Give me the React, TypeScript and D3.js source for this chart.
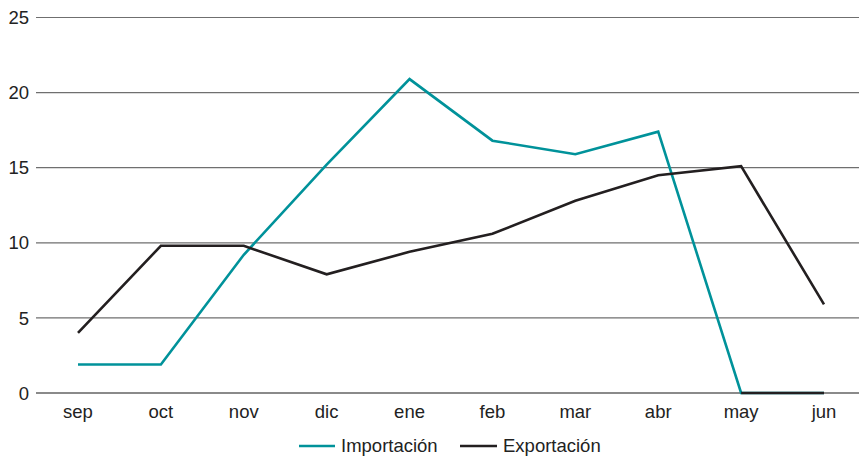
import React from "react";
import * as d3 from "d3";

const months = ["sep", "oct", "nov", "dic", "ene", "feb", "mar", "abr", "may", "jun"];
const importacion = [1.9, 1.9, 9.2, 15.2, 20.9, 16.8, 15.9, 17.4, 0, 0];
const exportacion = [4.0, 9.8, 9.8, 7.9, 9.4, 10.6, 12.8, 14.5, 15.1, 5.9];
const yTicks = [0, 5, 10, 15, 20, 25];

const W = 859;
const H = 457;
const TEAL = "#00929A";
const DARK = "#231f20";
const FONT = "'Liberation Sans', Arial, Helvetica, sans-serif";
const FS = 18.5;

export default function App() {
  const x = d3.scalePoint<string>().domain(months).range([78, 824]);
  const y = d3.scaleLinear().domain([0, 25]).range([393, 17.5]);

  const line = d3
    .line<number>()
    .x((_, i) => x(months[i]) as number)
    .y((d) => y(d));

  // runs of zero values in the import series are drawn dark over the baseline
  const zeroRun = d3
    .line<number>()
    .defined((d, i, arr) => d === 0 && ((i > 0 && arr[i - 1] === 0) || (i < arr.length - 1 && arr[i + 1] === 0)))
    .x((_, i) => x(months[i]) as number)
    .y((d) => y(d));

  return (
    <svg
      width={W}
      height={H}
      style={{ position: "absolute", left: 0, top: 0, background: "#fff" }}
      fontFamily={FONT}
    >
      {yTicks.map((t) => (
        <g key={t}>
          <line
            x1={36}
            x2={W}
            y1={y(t)}
            y2={y(t)}
            stroke={t === 0 ? "#8a8a8a" : "#6f6f6f"}
            strokeWidth={t === 0 ? 2 : 1.2}
          />
          <text x={29} y={y(t)} dy="0.36em" textAnchor="end" fontSize={FS} fill="#222">
            {t}
          </text>
        </g>
      ))}

      {months.map((m) => (
        <text key={m} x={x(m)} y={418} textAnchor="middle" fontSize={FS} fill="#222">
          {m}
        </text>
      ))}

      <path d={line(importacion) ?? ""} fill="none" stroke={TEAL} strokeWidth={2.6} strokeLinejoin="miter" />
      <path d={zeroRun(importacion) ?? ""} fill="none" stroke={DARK} strokeWidth={2.6} />
      <path d={line(exportacion) ?? ""} fill="none" stroke={DARK} strokeWidth={2.6} strokeLinejoin="miter" />

      <g fontSize={FS} fill="#222">
        <line x1={299} x2={335} y1={446} y2={446} stroke={TEAL} strokeWidth={2.6} />
        <text x={341} y={452}>Importación</text>
        <line x1={460} x2={497} y1={446} y2={446} stroke={DARK} strokeWidth={2.6} />
        <text x={503} y={452}>Exportación</text>
      </g>
    </svg>
  );
}
